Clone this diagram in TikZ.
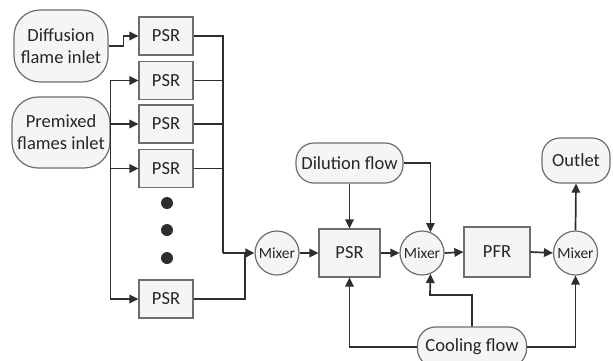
\documentclass[tikz,border=0pt]{standalone}
\usepackage{fontspec}
\setmainfont{Carlito}
\usetikzlibrary{arrows.meta,calc}
\definecolor{ln}{HTML}{2E2E2E}
\definecolor{bd}{HTML}{6E6E6E}
\definecolor{fl}{HTML}{F5F5F5}
\definecolor{tx}{HTML}{262626}
\tikzset{
  base/.style={draw=bd, fill=fl, line width=1.2pt, text=tx, inner sep=0pt, font=\fontsize{18.5}{22}\selectfont, align=center},
  rbox/.style={base, rectangle, minimum width=#1},
  term/.style={base, rectangle, rounded corners=17pt},
  mixc/.style={base, circle, minimum size=44pt, font=\fontsize{15.5}{18}\selectfont},
  conn/.style={draw=ln, line width=1.7pt},
  arr/.style={conn, -{Triangle[length=9pt,width=8.5pt]}},
  dotc/.style={circle, fill=ln, inner sep=0pt, minimum size=12pt}
}
\begin{document}
\begin{tikzpicture}[x=1pt,y=-1pt]
\useasboundingbox (0,0) rectangle (613,360);
% inlets
\node[term, minimum width=94pt, minimum height=72pt, rounded corners=26pt] (diff) at (61,46) {Diffusion\\flame inlet};
\node[term, minimum width=98pt, minimum height=71pt, rounded corners=26pt] (prem) at (61,132.5) {Premixed\\flames inlet};
% PSR column
\node[rbox=54pt, minimum height=38pt] (psr1) at (166,36) {PSR};
\node[rbox=54pt, minimum height=38pt] (psr2) at (166,80.5) {PSR};
\node[rbox=54pt, minimum height=38pt] (psr3) at (166,124) {PSR};
\node[rbox=54pt, minimum height=38pt] (psr4) at (166,168.5) {PSR};
\node[rbox=54pt, minimum height=38pt] (psr5) at (166,299) {PSR};
\node[dotc] (d1) at (167,203) {};
\node[dotc] (d2) at (167,230) {};
\node[dotc] (d3) at (167,258) {};
% main line
\node[mixc] (mix1) at (277,253) {Mixer};
\node[rbox=61pt, minimum height=48pt] (psr) at (349.5,253) {PSR};
\node[mixc] (mix2) at (422,253) {Mixer};
\node[rbox=66pt, minimum height=50pt] (pfr) at (497,252) {PFR};
\node[mixc] (mix3) at (575.5,253) {Mixer};
\node[term, minimum width=68pt, minimum height=45pt, rounded corners=18pt] (outlet) at (576,160.5) {Outlet};
\node[term, minimum width=107pt, minimum height=40pt, rounded corners=18pt] (dil) at (349.5,163) {Dilution flow};
\node[term, minimum width=109pt, minimum height=40pt, rounded corners=18pt] (cool) at (472,347) {Cooling flow};
% helper coordinates
\coordinate (busR) at (223,253);
\coordinate (j5) at (245,253);
\coordinate (c2) at (430,295);
% inlet connectors
\draw[arr] (diff.east) -- ++(15,0) |- (psr1.west);
\draw[arr] (prem.east) |- (psr2.west);
\draw[arr] (prem.east) |- (psr3.west);
\draw[arr] (prem.east) |- (psr4.west);
\draw[arr] (prem.east) |- (psr5.west);
% PSR outputs
\draw[conn] (psr1.east) -| (busR);
\draw[conn] (psr2.east) -- (psr2.east -| busR);
\draw[conn] (psr3.east) -- (psr3.east -| busR);
\draw[conn] (psr4.east) -- (psr4.east -| busR);
\draw[conn] (psr5.east) -| (j5);
\draw[arr, line width=2.4pt] (busR) -- (mix1.west);
% main chain
\draw[arr] (mix1.east) -- (psr.west);
\draw[arr] (psr.east) -- (mix2.west);
\draw[arr] (mix2.east) -- (pfr.west);
\draw[arr] (pfr.east) -- (mix3.west);
\draw[arr] (mix3.north) -- (outlet.south);
% dilution
\draw[arr] (dil.south) -- (psr.north);
\draw[arr] (dil.east) -| (mix2.68);
% cooling
\draw[arr] (cool.west) -| (psr.south);
\draw[arr] (cool.north) |- (c2) -- (mix2.-68);
\draw[arr] (cool.east) -| (mix3.south);
\end{tikzpicture}
\end{document}
